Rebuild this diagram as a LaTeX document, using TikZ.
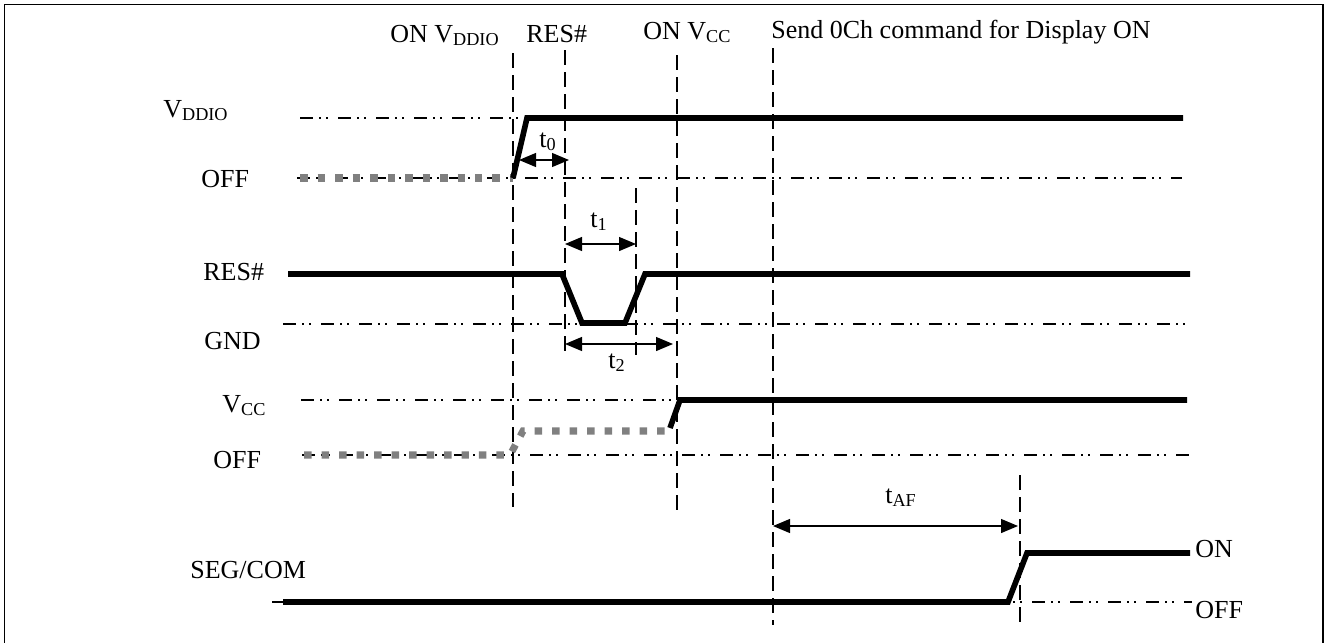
\documentclass[tikz,border=0pt]{standalone}
\usepackage{fontspec}
\setmainfont{Liberation Serif}
\usetikzlibrary{arrows.meta}
\definecolor{Ink}{HTML}{000000}
\definecolor{OffGray}{HTML}{808080}

\begin{document}
\begin{tikzpicture}[font=\fontsize{14.8}{17}\selectfont,level/.style={draw=Ink, line width=0.9pt, dash pattern=on 0.26cm off 0.12cm on 0.03cm off 0.11cm on 0.03cm off 0.21cm},marker/.style={draw=Ink, line width=0.8pt, dash pattern=on 0.30cm off 0.14cm},wave/.style={draw=Ink, line width=3.2pt, line join=miter},offwave/.style={draw=OffGray, line width=4pt, dash pattern=on 0.15cm off 0.20cm},span/.style={{Triangle[length=0.34cm,width=0.28cm]}-{Triangle[length=0.34cm,width=0.28cm]}, draw=Ink, line width=0.7pt},lbl/.style={anchor=base west, inner sep=0pt, text=Ink}]
\useasboundingbox (0,0) rectangle (26.52,-12.84);
\fill[white] (0,0) rectangle (26.52,-12.84);
\draw[Ink, line width=1.1pt] (0.09,-12.9) -- (0.09,-0.09) -- (26.46,-0.09) -- (26.46,-12.9);
% event labels
\node[lbl] (onvddio) at (7.80,-0.84) {ON V\textsubscript{DDIO}};
\node[lbl] (resevt) at (10.52,-0.84) {RES\#};
\node[lbl] (onvcc) at (12.86,-0.78) {ON V\textsubscript{CC}};
\node[lbl] (dispon) at (15.42,-0.76) {Send 0Ch command for Display ON};
% signal labels
\node[lbl] (vddio) at (3.26,-2.34) {V\textsubscript{DDIO}};
\node[lbl] (offa) at (4.02,-3.74) {OFF};
\node[lbl] (res) at (4.06,-5.60) {RES\#};
\node[lbl] (gnd) at (4.08,-6.98) {GND};
\node[lbl] (vcc) at (4.44,-8.24) {V\textsubscript{CC}};
\node[lbl] (offb) at (4.26,-9.36) {OFF};
\node[lbl] (segcom) at (3.80,-11.56) {SEG/COM};
\node[lbl] (segon) at (23.90,-11.14) {ON};
\node[lbl] (segoff) at (23.90,-12.36) {OFF};
% reference levels
\draw[level] (6.00,-2.36) -- (23.66,-2.36);
\draw[level] (5.94,-3.56) -- (23.64,-3.56);
\draw[level] (5.66,-6.48) -- (23.80,-6.48);
\draw[level] (6.02,-8.00) -- (13.54,-8.00);
\draw[level] (6.04,-9.10) -- (23.80,-9.10);
\draw[level] (5.44,-12.04) -- (23.84,-12.04);
% event markers
\foreach \x/\top/\bot in {10.26/-1.06/-10.14,11.30/-1.00/-7.04,12.72/-3.76/-7.10,13.54/-1.10/-10.20,15.46/-0.96/-12.50,20.40/-9.50/-12.44} {\draw[marker] (\x,\top) -- (\x,\bot);}
% waveforms
\draw[offwave] (6.00,-3.56) -- (10.26,-3.56);
\draw[wave] (10.26,-3.56) -- (10.54,-2.36) -- (23.66,-2.36);
\draw[wave] (5.76,-5.48) -- (11.24,-5.48) -- (11.64,-6.46) -- (12.50,-6.46) -- (12.90,-5.48) -- (23.80,-5.48);
\draw[offwave] (6.08,-9.10) -- (10.20,-9.10) -- (10.46,-8.62) -- (13.36,-8.62);
\draw[wave] (13.40,-8.56) -- (13.60,-8.00) -- (23.74,-8.00);
\draw[wave] (5.66,-12.04) -- (20.16,-12.04) -- (20.54,-11.06) -- (23.80,-11.06);
% timing spans
\coordinate (t0l) at (10.38,-3.20); \coordinate (t0r) at (11.38,-3.20);
\coordinate (t1l) at (11.30,-4.88); \coordinate (t1r) at (12.72,-4.88);
\coordinate (t2l) at (11.30,-6.88); \coordinate (t2r) at (13.46,-6.88);
\coordinate (tafl) at (15.46,-10.52); \coordinate (tafr) at (20.36,-10.52);
\draw[span] (t0l) -- (t0r);
\draw[span] (t1l) -- (t1r);
\draw[span] (t2l) -- (t2r);
\draw[span] (tafl) -- (tafr);
\node[lbl] (t0) at (10.78,-2.94) {t\textsubscript{0}};
\node[lbl] (t1) at (11.80,-4.54) {t\textsubscript{1}};
\node[lbl] (t2) at (12.16,-7.36) {t\textsubscript{2}};
\node[lbl] (taf) at (17.70,-10.06) {t\textsubscript{AF}};
\end{tikzpicture}
\end{document}
